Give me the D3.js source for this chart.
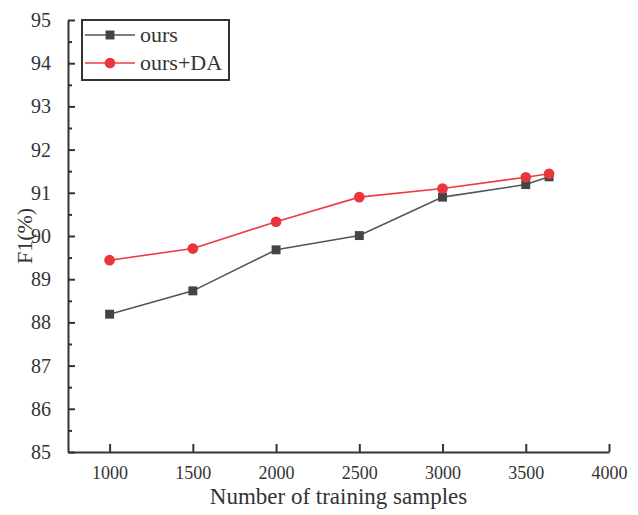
<!DOCTYPE html>
<html>
<head>
<meta charset="utf-8">
<script src="https://cdn.jsdelivr.net/npm/d3@7"></script>
<style>
  body { margin: 0; background: #fff; }
  text { font-family: "Liberation Serif", "Times New Roman", serif; fill: #333; }
</style>
</head>
<body>
<div id="chart"></div>
<script>
// data
const samples = [1000, 1500, 2000, 2500, 3000, 3500, 3640];
const ours = [88.19, 88.73, 89.68, 90.01, 90.9, 91.19, 91.37];
const oursDA = [89.44, 89.71, 90.33, 90.9, 91.1, 91.36, 91.44];
const xTicks = [1000, 1500, 2000, 2500, 3000, 3500, 4000];
const yTicks = [85, 86, 87, 88, 89, 90, 91, 92, 93, 94, 95];

const width = 638;
const height = 515;
const margin = { top: 20, right: 29, bottom: 63, left: 68 };

const svg = d3.select("#chart")
  .append("svg")
  .attr("width", width)
  .attr("height", height);

const x = d3.scaleLinear()
  .domain([750, 4000])
  .range([margin.left, width - margin.right]);

const y = d3.scaleLinear()
  .domain([85, 95])
  .range([height - margin.bottom, margin.top]);

// y axis with inside ticks, minor ticks on half values
const yAxis = svg.append("g")
  .attr("transform", `translate(${margin.left},0)`)
  .call(d3.axisLeft(y).tickValues(yTicks).tickSize(-7).tickPadding(17).tickSizeOuter(0));
yAxis.selectAll("text").style("font-size", "20px");

svg.append("g")
  .attr("transform", `translate(${margin.left},0)`)
  .call(d3.axisLeft(y).tickValues(d3.range(85.5, 95, 1)).tickSize(-4).tickFormat("").tickSizeOuter(0))
  .select(".domain").remove();

const xAxis = svg.append("g")
  .attr("transform", `translate(0,${height - margin.bottom})`)
  .call(d3.axisBottom(x).tickValues(xTicks).tickFormat(d3.format("d")).tickSize(-8).tickPadding(14).tickSizeOuter(0));
xAxis.selectAll("text").style("font-size", "18px");

svg.selectAll(".domain, .tick line")
  .attr("stroke", "#333")
  .attr("stroke-width", 2);
svg.selectAll(".tick text").attr("fill", "#333");

// axis titles
svg.append("text")
  .attr("x", (margin.left + width - margin.right) / 2)
  .attr("y", 504)
  .attr("text-anchor", "middle")
  .style("font-size", "23px")
  .text("Number of training samples");

svg.append("text")
  .attr("transform", `translate(32,${y(90)}) rotate(-90)`)
  .attr("text-anchor", "middle")
  .style("font-size", "22px")
  .text("F1(%)");

// series
const series = [
  { name: "ours", values: ours, color: "#555555", marker: "#444444", shape: d3.symbolSquare, size: 80 },
  { name: "ours+DA", values: oursDA, color: "#ee3b40", marker: "#e8363c", shape: d3.symbolCircle, size: 90 }
];

const line = d3.line()
  .x((d, i) => x(samples[i]))
  .y(d => y(d));

series.forEach(s => {
  svg.append("path")
    .datum(s.values)
    .attr("fill", "none")
    .attr("stroke", s.color)
    .attr("stroke-width", 1.6)
    .attr("d", line);

  svg.selectAll(null)
    .data(s.values)
    .join("path")
    .attr("transform", (d, i) => `translate(${x(samples[i])},${y(d)})`)
    .attr("d", d3.symbol().type(s.shape).size(s.size))
    .attr("fill", s.marker);
});

// legend
const legend = svg.append("g").attr("transform", "translate(82,20)");
legend.append("rect")
  .attr("width", 147)
  .attr("height", 60)
  .attr("fill", "#fff")
  .attr("stroke", "#333")
  .attr("stroke-width", 2);

series.forEach((s, i) => {
  const ly = 15 + i * 28;
  legend.append("line")
    .attr("x1", 3).attr("x2", 53)
    .attr("y1", ly).attr("y2", ly)
    .attr("stroke", s.color)
    .attr("stroke-width", 1.6);
  legend.append("path")
    .attr("transform", `translate(28,${ly})`)
    .attr("d", d3.symbol().type(s.shape).size(s.size))
    .attr("fill", s.marker);
  legend.append("text")
    .attr("x", 58)
    .attr("y", ly + 7)
    .style("font-size", "22px")
    .text(s.name);
});
</script>
</body>
</html>
